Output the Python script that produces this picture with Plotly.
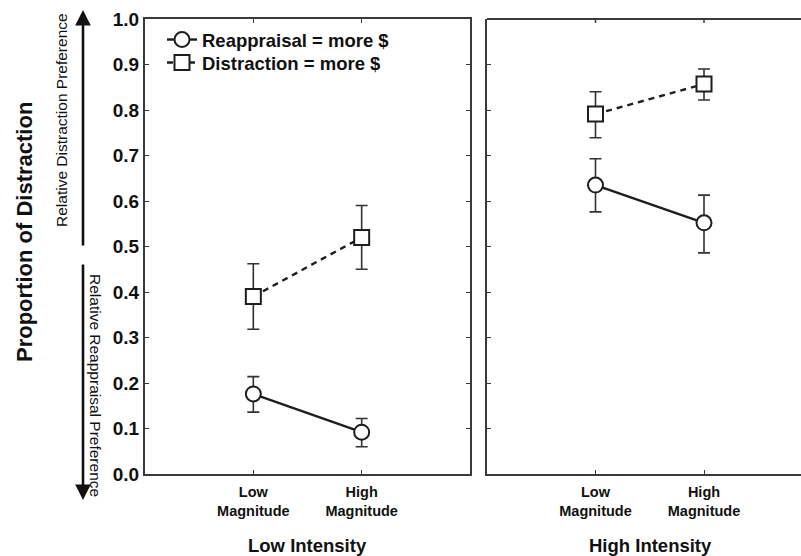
import plotly.graph_objects as go

categories = ["Low<br>Magnitude", "High<br>Magnitude"]
x_pos = [1, 2]

# Low Intensity panel
low_reapp = [0.176, 0.092]
low_reapp_hi = [0.214, 0.122]
low_reapp_lo = [0.136, 0.060]
low_dist = [0.390, 0.520]
low_dist_hi = [0.462, 0.590]
low_dist_lo = [0.318, 0.450]

# High Intensity panel
high_reapp = [0.635, 0.552]
high_reapp_hi = [0.693, 0.613]
high_reapp_lo = [0.576, 0.486]
high_dist = [0.791, 0.857]
high_dist_hi = [0.840, 0.890]
high_dist_lo = [0.739, 0.822]

y_ticks = [0.0, 0.1, 0.2, 0.3, 0.4, 0.5, 0.6, 0.7, 0.8, 0.9, 1.0]

W, H = 801, 556
FONT = "Liberation Sans, Arial, sans-serif"
INK = "#1e1e1e"
AX = "#3a3a3a"


def px(x):
    return x / W


def py(y):
    return (H - y) / H


def err(vals, hi, lo):
    return dict(type="data", symmetric=False,
                array=[h - v for h, v in zip(hi, vals)],
                arrayminus=[v - l for v, l in zip(vals, lo)],
                color="#333", thickness=1.6, width=6)


fig = go.Figure()

def add_series(vals, hi, lo, name, symbol, dash, xa, ya, show, legend):
    fig.add_trace(go.Scatter(
        x=x_pos, y=vals, name=name, mode="lines+markers",
        line=dict(color=INK, width=2.4, dash=dash),
        marker=dict(symbol=symbol, size=15, color="white",
                    line=dict(color=INK, width=2)),
        error_y=err(vals, hi, lo),
        xaxis=xa, yaxis=ya, showlegend=show, legend=legend))

add_series(low_reapp, low_reapp_hi, low_reapp_lo, "Reappraisal = more $",
           "circle", "solid", "x", "y", True, "legend")
add_series(low_dist, low_dist_hi, low_dist_lo, "Distraction = more $",
           "square", "6px,5px", "x", "y", True, "legend2")
add_series(high_reapp, high_reapp_hi, high_reapp_lo, "Reappraisal = more $",
           "circle", "solid", "x2", "y2", False, "legend")
add_series(high_dist, high_dist_hi, high_dist_lo, "Distraction = more $",
           "square", "6px,5px", "x2", "y2", False, "legend2")

ydom = [py(474), py(19)]
common_x = dict(tickvals=x_pos, ticktext=categories, ticks="inside", ticklen=4,
                tickcolor=AX, showline=True, linecolor=AX, linewidth=2,
                showgrid=False, zeroline=False, mirror="ticks", automargin=False,
                tickfont=dict(family=FONT, size=14.5, color="#111", weight="bold"),
                ticklabelstandoff=4)

legend_common = dict(xanchor="left", yanchor="middle", bgcolor="rgba(0,0,0,0)",
                     font=dict(family=FONT, size=18.5, color="#111", weight="bold"),
                     itemwidth=30)

fig.update_layout(
    template="none",
    width=W, height=H,
    margin=dict(l=0, r=0, t=0, b=0, autoexpand=False),
    plot_bgcolor="white", paper_bgcolor="white",
    xaxis=dict(domain=[px(145), px(470)], range=[0, 3], **common_x),
    xaxis2=dict(domain=[px(487), 1.0], range=[0, 314 / 108.5], anchor="y2",
                **{**common_x, "mirror": False}),
    yaxis=dict(domain=ydom, range=[0, 1], tickvals=y_ticks, tickformat=".1f",
               ticks="inside", ticklen=4, tickcolor=AX, showline=True,
               linecolor=AX, linewidth=2, mirror="ticks", showgrid=False,
               zeroline=False, anchor="x", automargin=False,
               tickfont=dict(family=FONT, size=19, color="#111", weight="bold")),
    yaxis2=dict(domain=ydom, range=[0, 1], tickvals=y_ticks,
                showticklabels=False, ticks="inside", ticklen=4, tickcolor=AX,
                showline=True, linecolor=AX, linewidth=2, showgrid=False,
                zeroline=False, anchor="x2", automargin=False),
    legend=dict(x=px(162), y=py(40), **legend_common),
    legend2=dict(x=px(162), y=py(63), **legend_common),
)

# top border for right panel (mirror not used on its y axis)
fig.add_shape(type="line", xref="x2 domain", yref="paper",
              x0=0, x1=1, y0=py(19), y1=py(19),
              line=dict(color=AX, width=2))
for xv in x_pos:
    fig.add_shape(type="line", xref="x2", yref="paper",
                  x0=xv, x1=xv, y0=py(19), y1=py(23),
                  line=dict(color=AX, width=1.5))

annots = [
    dict(text="Proportion of Distraction", x=px(25), y=py(232), textangle=-90,
         font=dict(family=FONT, size=22, color="#111", weight="bold")),
    dict(text="Relative Distraction Preference", x=px(61), y=py(120), textangle=-90,
         font=dict(family=FONT, size=15.5, color="#111")),
    dict(text="Relative Reappraisal Preference", x=px(96), y=py(385), textangle=90,
         font=dict(family=FONT, size=15.5, color="#111")),
    dict(text="Low Intensity", x=px(307), y=py(545),
         font=dict(family=FONT, size=18.5, color="#111", weight="bold")),
    dict(text="High Intensity", x=px(650), y=py(545),
         font=dict(family=FONT, size=18.5, color="#111", weight="bold")),
]
for a in annots:
    fig.add_annotation(xref="paper", yref="paper", showarrow=False,
                       xanchor="center", yanchor="middle", **a)

# arrows
fig.add_annotation(xref="paper", yref="paper", x=px(83), y=py(10), ax=0, ay=237,
                   text="", showarrow=True, arrowhead=2, arrowsize=1.2,
                   arrowwidth=2.6, arrowcolor="#111", standoff=0)
fig.add_annotation(xref="paper", yref="paper", x=px(83), y=py(500), ax=0, ay=-237,
                   text="", showarrow=True, arrowhead=2, arrowsize=1.2,
                   arrowwidth=2.6, arrowcolor="#111", standoff=0)

fig.write_html(
    "out.html",
    config={"displayModeBar": False},
    post_script="document.body.style.margin='0';document.body.style.overflow='hidden';",
)
